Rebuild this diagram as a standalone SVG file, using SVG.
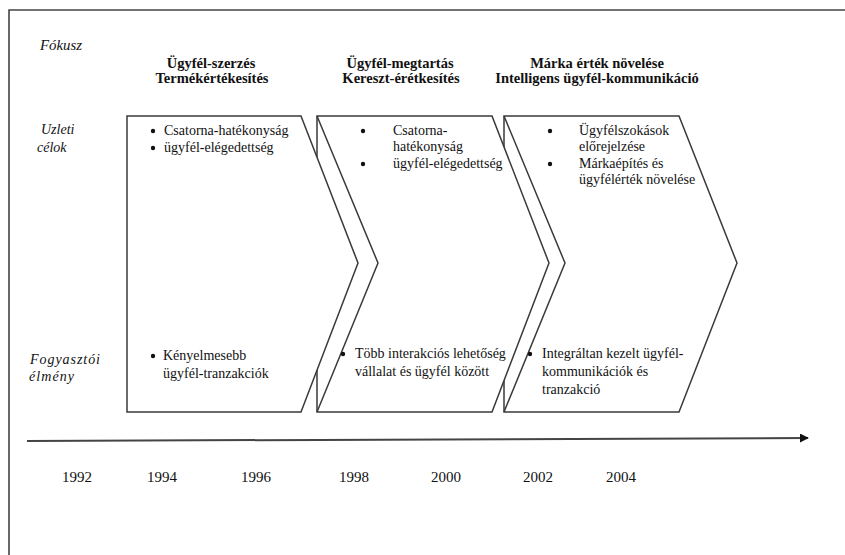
<svg xmlns="http://www.w3.org/2000/svg" width="845" height="555" viewBox="0 0 845 555">
<style>
.frame{fill:none;stroke:#444;stroke-width:1.6}
.chev{fill:#fff;stroke:#3a3a3a;stroke-width:1.5;stroke-linejoin:miter}
.notch{fill:none;stroke:#3a3a3a;stroke-width:1.5}
text{font-family:'Liberation Serif','Times New Roman',Tinos,serif;fill:#111}
.lab{font-size:14px;font-style:italic}
.head{font-size:14.5px;font-weight:bold;text-anchor:middle}
.body{font-size:14px}
.year{font-size:15px}
.bul{fill:#111}
</style>
<defs>
<marker id="ah" viewBox="0 0 10 10" refX="9" refY="5" markerWidth="4.5" markerHeight="4.5" orient="auto" markerUnits="strokeWidth">
<path d="M0,0 L10,5 L0,10 z" fill="#111"/>
</marker>
</defs>
<rect width="845" height="555" fill="#fff"/>
<path class="frame" d="M9,555 V10 H845"/>

<g id="labels" font-family="Liberation Serif">
<text class="lab" x="40" y="50" textLength="42" lengthAdjust="spacingAndGlyphs">Fókusz</text>
<text class="lab" x="41" y="134">Uzleti</text>
<text class="lab" x="37" y="152">célok</text>
<text class="lab" x="30" y="364" textLength="70" lengthAdjust="spacing">Fogyasztói</text>
<text class="lab" x="29" y="381" textLength="45" lengthAdjust="spacing">élmény</text>
</g>

<g id="headings">
<text class="head" x="211" y="68">Ügyfél-szerzés</text>
<text class="head" x="212" y="83">Termékértékesítés</text>
<text class="head" x="400" y="68">Ügyfél-megtartás</text>
<text class="head" x="401" y="83">Kereszt-érétkesítés</text>
<text class="head" x="597" y="68">Márka érték növelése</text>
<text class="head" x="597" y="83">Intelligens ügyfél-kommunikáció</text>
</g>

<g id="chevron3">
<polygon class="chev" points="504,116 679,116 737,263 679,412 504,412"/>
<polyline class="notch" points="504,116 565,263 504,412"/>
<circle class="bul" cx="550" cy="131" r="2.2"/>
<text class="body" x="579" y="135">Ügyfélszokások</text>
<text class="body" x="579" y="151">előrejelzése</text>
<circle class="bul" cx="550" cy="164" r="2.2"/>
<text class="body" x="579" y="168">Márkaépítés és</text>
<text class="body" x="579" y="184">ügyfélérték növelése</text>
<circle class="bul" cx="530" cy="354" r="2.2"/>
<text class="body" x="542" y="358">Integráltan kezelt ügyfél-</text>
<text class="body" x="542" y="376">kommunikációk és</text>
<text class="body" x="542" y="394">tranzakció</text>
</g>

<g id="chevron2">
<polygon class="chev" points="317,116 492,116 549,263 492,412 317,412"/>
<polyline class="notch" points="317,116 378,263 317,412"/>
<circle class="bul" cx="363" cy="131" r="2.2"/>
<text class="body" x="393" y="135">Csatorna-</text>
<text class="body" x="393" y="151">hatékonyság</text>
<circle class="bul" cx="363" cy="164" r="2.2"/>
<text class="body" x="393" y="168">ügyfél-elégedettség</text>
<circle class="bul" cx="343" cy="354" r="2.2"/>
<text class="body" x="355" y="358">Több interakciós lehetőség</text>
<text class="body" x="355" y="376">vállalat és ügyfél között</text>
</g>

<g id="chevron1">
<polygon class="chev" points="127,116 301,116 358,263 301,412 127,412"/>
<circle class="bul" cx="153" cy="131" r="2.2"/>
<text class="body" x="164" y="135">Csatorna-hatékonyság</text>
<circle class="bul" cx="153" cy="148" r="2.2"/>
<text class="body" x="164" y="152">ügyfél-elégedettség</text>
<circle class="bul" cx="153" cy="356" r="2.2"/>
<text class="body" x="163" y="360">Kényelmesebb</text>
<text class="body" x="163" y="378">ügyfél-tranzakciók</text>
</g>

<g id="connectors">
<line x1="27" y1="441" x2="808" y2="438" stroke="#444" stroke-width="2" marker-end="url(#ah)"/>
</g>

<g id="years">
<text class="year" x="62" y="482">1992</text>
<text class="year" x="147" y="482">1994</text>
<text class="year" x="241" y="482">1996</text>
<text class="year" x="339" y="482">1998</text>
<text class="year" x="431" y="482">2000</text>
<text class="year" x="523" y="482">2002</text>
<text class="year" x="606" y="482">2004</text>
</g>
</svg>
